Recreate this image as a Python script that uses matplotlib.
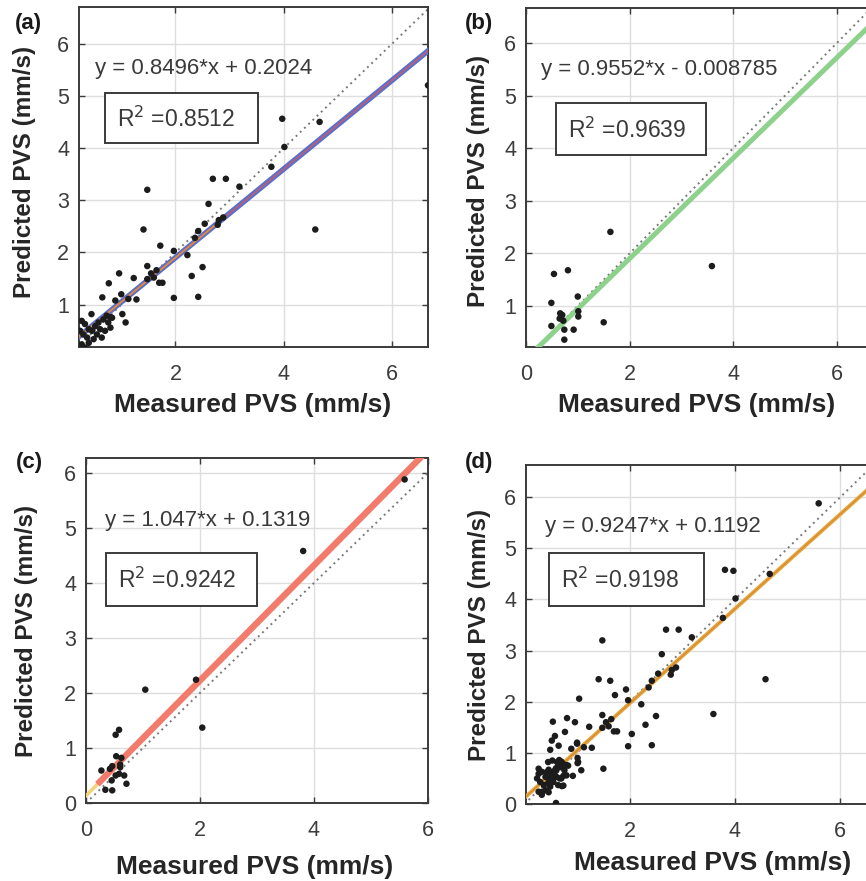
import matplotlib
matplotlib.use("Agg")
import matplotlib.pyplot as plt
from matplotlib.patches import Rectangle
import numpy as np

plt.rcParams['font.family'] = ['Liberation Sans', 'DejaVu Sans']

# ---------------- data ----------------
a_x = [6.66, 4.66, 3.97, 4.01, 3.77, 3.18, 2.69, 2.93, 2.61, 2.54, 2.80, 2.78, 2.88,
       2.42, 2.36, 1.48, 1.41, 4.58, 1.72, 1.97, 2.22, 1.48, 2.50, 2.30, 1.97, 2.42,
       1.65, 1.60, 1.76, 1.70, 1.48, 1.55, 0.96, 0.77, 1.23, 0.65, 1.28, 0.89, 1.00,
       1.13, 1.02, 1.08, 0.80, 0.45,
       0.27, 0.33, 0.40, 0.30, 0.37, 0.46, 0.52, 0.58, 0.67, 0.76, 0.83, 0.55, 0.64,
       0.49, 0.40, 0.27, 0.33, 0.24, 0.70, 0.61, 0.73, 0.80, 0.60]
a_y = [5.20, 4.50, 4.56, 4.02, 3.64, 3.26, 3.41, 3.41, 2.93, 2.55, 2.62, 2.53, 2.67,
       2.41, 2.28, 3.20, 2.44, 2.44, 2.13, 2.03, 1.95, 1.74, 1.72, 1.55, 1.13, 1.15,
       1.66, 1.52, 1.42, 1.42, 1.49, 1.60, 1.60, 1.41, 1.51, 1.14, 1.10, 1.08, 1.20,
       1.11, 0.82, 0.66, 0.76, 0.82,
       0.69, 0.63, 0.53, 0.43, 0.37, 0.50, 0.59, 0.66, 0.72, 0.66, 0.75, 0.43, 0.37,
       0.34, 0.27, 0.24, 0.18, 0.50, 0.50, 0.53, 0.79, 0.56, 0.02]

b_x = [1.63, 3.59, 0.54, 0.81, 0.49, 1.00, 0.66, 0.68, 0.70, 0.65, 1.01, 1.01,
       1.50, 0.49, 0.74, 0.92, 0.74, 0.72]
b_y = [2.41, 1.76, 1.61, 1.68, 1.06, 1.18, 0.86, 0.80, 0.83, 0.76, 0.90, 0.80,
       0.69, 0.62, 0.55, 0.55, 0.36, 0.72]

c_x = [5.59, 3.81, 1.04, 1.93, 2.04, 0.58, 0.52, 0.53, 0.27, 0.42, 0.46, 0.60,
       0.58, 0.52, 0.67, 0.45, 0.71, 0.34, 0.46, 0.62, 0.60]
c_y = [5.88, 4.58, 2.06, 2.24, 1.37, 1.33, 1.24, 0.85, 0.59, 0.62, 0.67, 0.65,
       0.53, 0.50, 0.50, 0.41, 0.35, 0.24, 0.23, 0.82, 0.70]

# (d) pools all measurements of (a), (b) and (c)
d_x = a_x + b_x + c_x
d_y = a_y + b_y + c_y

slopes = [0.8496, 0.9552, 1.047, 0.9247]
intercepts = [0.2024, -0.008785, 0.1319, 0.1192]
eq_texts = ["y = 0.8496*x + 0.2024", "y = 0.9552*x - 0.008785",
            "y = 1.047*x + 0.1319", "y = 0.9247*x + 0.1192"]
r2_texts = ["0.8512", "0.9639", "0.9242", "0.9198"]
panel_labels = ["(a)", "(b)", "(c)", "(d)"]

# ---------------- figure ----------------
W, H = 866, 881
fig = plt.figure(figsize=(W / 100, H / 100), dpi=100)

def px_axes(l, r, t, b):
    return fig.add_axes([l / W, 1 - b / H, (r - l) / W, (b - t) / H])

axes = [px_axes(79, 428, 7, 347), px_axes(526, 875, 8, 347),
        px_axes(86, 428, 458, 803), px_axes(526, 875, 465, 804)]

xlims = [(0.22, 6.66), (0.0, 6.74), (0.0, 6.0), (0.03, 6.66)]
ylims = [(0.19, 6.70), (0.22, 6.67), (0.0, 6.27), (0.0, 6.63)]
xticks = [[2, 4, 6], [0, 2, 4, 6], [0, 2, 4, 6], [2, 4, 6]]
yticks = [[1, 2, 3, 4, 5, 6], [1, 2, 3, 4, 5, 6], [0, 1, 2, 3, 4, 5, 6], [0, 1, 2, 3, 4, 5, 6]]
data = [(a_x, a_y), (b_x, b_y), (c_x, c_y), (d_x, d_y)]

eq_pos = [(0.046, 0.82), (0.043, 0.82), (0.056, 0.82), (0.054, 0.82)]
box_rect = [(0.0745, 0.600, 0.513, 0.747), (0.085, 0.566, 0.517, 0.719),
            (0.058, 0.572, 0.499, 0.724), (0.066, 0.585, 0.509, 0.740)]
r2_pos = [(0.109, 0.671), (0.120, 0.640), (0.094, 0.646), (0.101, 0.661)]
xlab_pos = [(0.4986, -0.171), (0.489, -0.171), (0.494, -0.185), (0.536, -0.175)]
ylab_pos = [(-0.155, 0.515), (-0.1375, 0.49), (-0.173, 0.50), (-0.133, 0.50)]
lab_px = [(28, 23), (479, 23), (29, 462), (479, 463)]

tick_col = '#3c3c3c'
for i, ax in enumerate(axes):
    x, y = data[i]
    x0, x1 = xlims[i]
    y0, y1 = ylims[i]
    ax.set_xlim(x0, x1)
    ax.set_ylim(y0, y1)
    ax.set_xticks(xticks[i])
    ax.set_yticks(yticks[i])
    ax.grid(True, color='#dedede', lw=1.0)
    ax.set_axisbelow(True)
    ax.tick_params(direction='in', length=4, width=1.0, colors=tick_col,
                   labelsize=15.5, top=True, right=True)
    ax.tick_params(axis='x', pad=12)
    ax.tick_params(axis='y', pad=7)
    for s in ax.spines.values():
        s.set_color('#3a3a3a')
        s.set_linewidth(1.4)

    # identity line
    lo = min(x0, y0)
    hi = max(x1, y1)
    ax.plot([lo, hi], [lo, hi], ls=(0, (1, 2)), color='#7a7a7a', lw=1.4, zorder=2)

    xx = np.array([x0 - 0.5, x1 + 0.5])
    m, c = slopes[i], intercepts[i]
    if i == 0:
        ax.plot(xx, m * xx + c, color='#5f6fc8', lw=4.0, zorder=3, solid_capstyle='butt')
        ax.plot(xx, m * xx + c, color='#d85a5a', lw=0.8, zorder=4)
        xs = np.array([x0, 2.9])
        ax.plot(xs, m * xs + c, color='#e8902a', lw=1.1, zorder=5)
    elif i == 1:
        ax.plot(xx, m * xx + c, color='#8dd18d', lw=3.6, zorder=3)
    elif i == 2:
        ax.plot(xx, m * xx + c, color='#f5d27a', lw=2.5, zorder=3)
        xs = np.array([0.2, x1 + 0.5])
        ax.plot(xs, m * xs + c, color='#f27b6b', lw=4.6, zorder=4, solid_capstyle='butt')
    else:
        ax.plot(xx, m * xx + c, color='#eaa540', lw=2.8, zorder=3)
        ax.plot(xx, m * xx + c, color='#c98a2a', lw=0.7, zorder=4)

    ax.scatter(x, y, s=22, color='#1c1c1c', edgecolors='none', zorder=6)

    # equation text
    ax.text(eq_pos[i][0], eq_pos[i][1], eq_texts[i], transform=ax.transAxes,
            fontsize=16, color='#3a3a3a', ha='left', va='center', zorder=7)
    # R^2 box
    bx0, by0, bx1, by1 = box_rect[i]
    ax.add_patch(Rectangle((bx0, by0), bx1 - bx0, by1 - by0, transform=ax.transAxes,
                           facecolor='white', edgecolor='#3a3a3a', lw=1.4, zorder=7))
    ax.text(r2_pos[i][0], r2_pos[i][1], r"R$^{2}$ =" + r2_texts[i], transform=ax.transAxes,
            fontsize=16.5, color='#3a3a3a', ha='left', va='center', zorder=8)

    ax.set_xlabel("Measured PVS (mm/s)", fontsize=19, fontweight='bold', color='#262626')
    ax.set_ylabel("Predicted PVS (mm/s)", fontsize=17.5, fontweight='bold', color='#262626')
    ax.xaxis.set_label_coords(*xlab_pos[i])
    ax.yaxis.set_label_coords(*ylab_pos[i])
    ax.xaxis.label.set_va('center')
    ax.yaxis.label.set_va('center')

    fig.text(lab_px[i][0] / W, 1 - lab_px[i][1] / H, panel_labels[i], fontsize=16,
             fontweight='bold', color='#1a1a1a', ha='center', va='center')

fig.savefig("out.png", dpi=100)
